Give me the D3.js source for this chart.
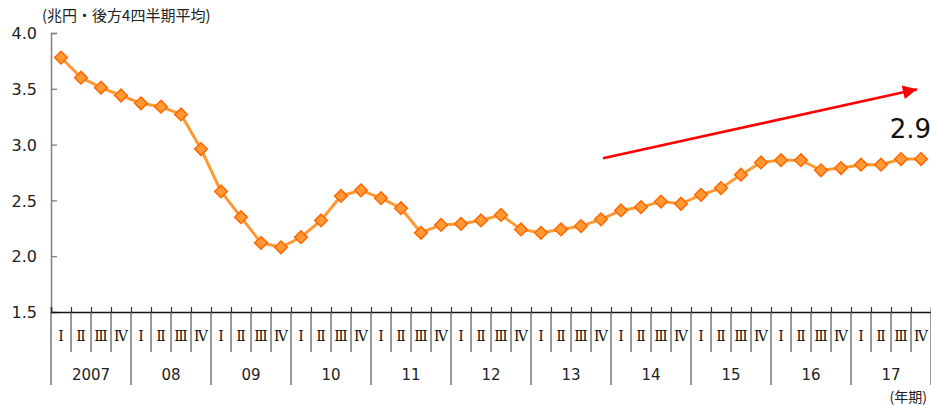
<!DOCTYPE html>
<html><head><meta charset="utf-8">
<script src="https://cdn.jsdelivr.net/npm/d3@7"></script>
<style>body{margin:0;background:#fff}svg{display:block}</style>
</head><body>
<svg id="c" width="931" height="405"></svg>
<script>
const years = ["2007","08","09","10","11","12","13","14","15","16","17"];
const quarters = ["Ⅰ","Ⅱ","Ⅲ","Ⅳ"];
const values = [3.78,3.60,3.51,3.44, 3.37,3.34,3.27,2.96, 2.58,2.35,2.12,2.08,
  2.17,2.32,2.54,2.59, 2.52,2.43,2.21,2.28, 2.29,2.32,2.37,2.24,
  2.21,2.24,2.27,2.33, 2.41,2.44,2.49,2.47, 2.55,2.61,2.73,2.84,
  2.86,2.86,2.77,2.79, 2.82,2.82,2.87,2.87];
const yTicks = [1.5,2.0,2.5,3.0,3.5,4.0];
const unitLabel = "(兆円・後方4四半期平均)";
const periodLabel = "(年期)";
const lastLabel = "2.9";
// trend arrow endpoints: [slot position, value]
const arrowFrom = [27.6, 2.877];
const arrowTo = [43.3, 3.496];

const svg = d3.select("#c");
const L = 51, R = 931, T = 33, B = 312;
const n = values.length;
const x = d3.scaleLinear().domain([0, n]).range([L, R]);
const y = d3.scaleLinear().domain([1.5, 4.0]).range([B, T]);
const sans = "'DejaVu Sans','Noto Sans CJK JP',sans-serif";
const cjk = "'Noto Sans CJK JP','DejaVu Sans',sans-serif";

svg.append("defs").append("marker").attr("id","ah")
  .attr("viewBox","0 0 10 10").attr("refX",10).attr("refY",5)
  .attr("markerWidth",6).attr("markerHeight",5.4).attr("orient","auto")
  .attr("markerUnits","strokeWidth")
  .append("path").attr("d","M0,0L10,5L0,10Z").attr("fill","#ff0000");

// y axis
const ya = svg.append("g").attr("transform",`translate(${L},0)`)
  .call(d3.axisRight(y).tickValues(yTicks).tickSize(6).tickFormat(d3.format(".1f")));
ya.select(".domain").attr("stroke","#808080").attr("stroke-width",1.5);
ya.selectAll(".tick line").attr("stroke","#808080").attr("stroke-width",1.3);
ya.selectAll(".tick text").attr("x",-14).attr("text-anchor","end")
  .attr("font-family",sans).attr("font-size",16).attr("fill","#222").attr("dy","0.35em");

svg.append("text").attr("x",42).attr("y",21).attr("font-family",cjk)
  .attr("font-size",15).attr("fill","#222").text(unitLabel);

// x axis line with upward ticks
const xa = svg.append("g").attr("transform",`translate(0,${B})`)
  .call(d3.axisTop(x).tickValues(d3.range(0,n+1)).tickSize(5).tickFormat(""));
xa.select(".domain").attr("stroke","#111").attr("stroke-width",1.5);
xa.selectAll(".tick line").attr("stroke","#333").attr("stroke-width",1.2);

// separators below axis
const seps = d3.range(0, n+1);
svg.append("g").selectAll("line").data(seps).join("line")
  .attr("x1",d=>x(d)).attr("x2",d=>x(d)).attr("y1",B)
  .attr("y2",d=> (d%4===0) ? 385 : 352)
  .attr("stroke","#555").attr("stroke-width",1.2);

// quarter labels
svg.append("g").selectAll("text").data(values).join("text")
  .attr("x",(d,i)=>x(i+0.5)).attr("y",341).attr("text-anchor","middle")
  .attr("font-family","'DejaVu Serif','Liberation Serif',serif").attr("font-size",14)
  .attr("fill","#111").text((d,i)=>quarters[i%4]);

// year labels
svg.append("g").selectAll("text").data(years).join("text")
  .attr("x",(d,i)=>x(i*4+2)).attr("y",380).attr("text-anchor","middle")
  .attr("font-family",sans).attr("font-size",15).attr("fill","#222").text(d=>d);

svg.append("text").attr("x",927).attr("y",402).attr("text-anchor","end")
  .attr("font-family",cjk).attr("font-size",14).attr("fill","#222").text(periodLabel);

// line
svg.append("path").datum(values)
  .attr("d", d3.line().x((d,i)=>x(i+0.5)).y(d=>y(d)))
  .attr("fill","none").attr("stroke","#ff9933").attr("stroke-width",3);

// markers
svg.append("g").selectAll("path").data(values).join("path")
  .attr("d", d3.symbol(d3.symbolSquare, 80)())
  .attr("transform",(d,i)=>`translate(${x(i+0.5)},${y(d)}) rotate(45)`)
  .attr("fill","#ff9933").attr("stroke","#ff6600").attr("stroke-width",1.5);

// arrow
svg.append("line")
  .attr("x1",x(arrowFrom[0])).attr("y1",y(arrowFrom[1]))
  .attr("x2",x(arrowTo[0])).attr("y2",y(arrowTo[1]))
  .attr("stroke","#ff0000").attr("stroke-width",2.6).attr("marker-end","url(#ah)");

svg.append("text").attr("x",931).attr("y",137.5).attr("text-anchor","end")
  .attr("font-family",sans).attr("font-size",26).attr("fill","#111").text(lastLabel);
</script>
</body></html>
